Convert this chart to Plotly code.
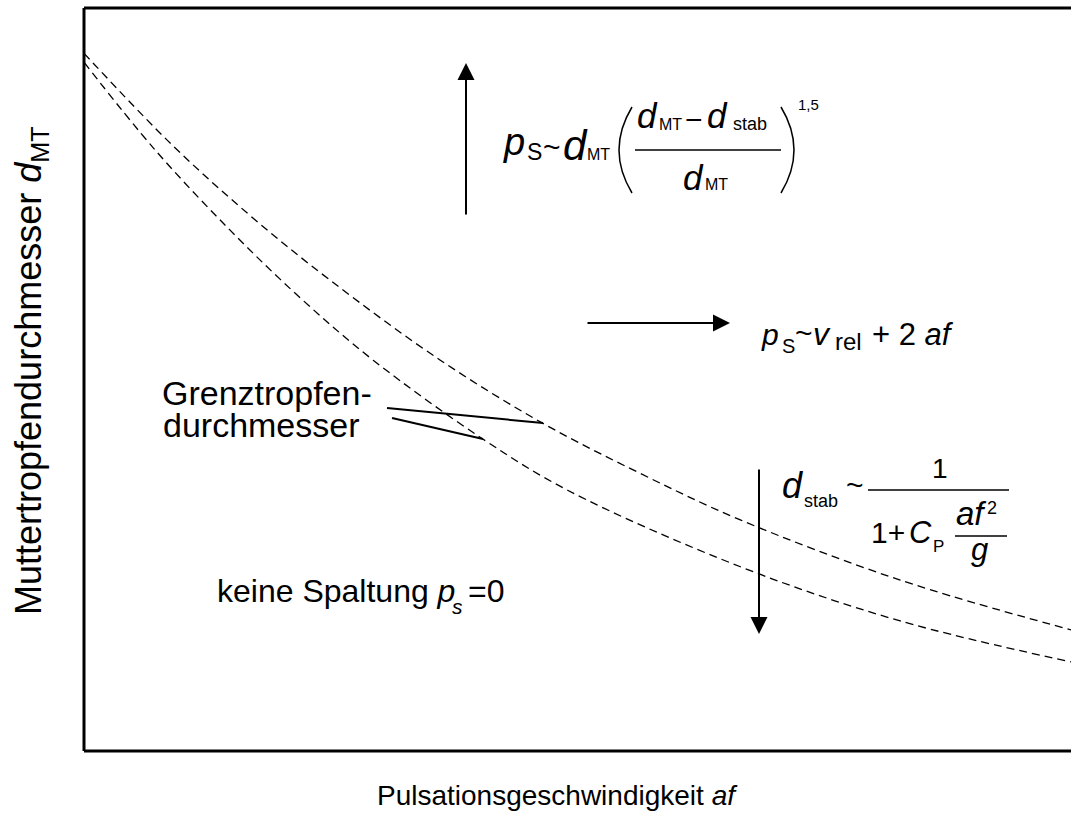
import plotly.graph_objects as go

# ---- data (axis units 0..100) ----
x_upper = [0, 8.9, 16.8, 24.9, 36.1, 46.5, 56.3, 66.5, 82.7, 100]
y_upper = [93.9, 81.6, 72.1, 63.4, 52.6, 44.1, 37.4, 31.1, 23.0, 16.3]
x_lower = [0, 7.2, 14.8, 21.9, 29.3, 40.4, 49.0, 66.5, 82.7, 100]
y_lower = [92.7, 80.9, 70.1, 61.0, 52.6, 42.0, 35.1, 24.8, 17.5, 12.0]

x_title = "Pulsationsgeschwindigkeit <i>af</i>"
y_title = "Muttertropfendurchmesser <i>d</i><sub>MT</sub>"
label_grenz = ["Grenztropfen-", "durchmesser"]
label_keine = "keine Spaltung <i>p</i>"

FONT = "Liberation Sans, Arial, Helvetica, sans-serif"
W, H = 1071, 814
L, T, B = 84, 8, 751  # plot area edges in px


def px(v):
    return (v - L) / (W - L)


def py(v):
    return (B - v) / (B - T)


fig = go.Figure()
for xs, ys in ((x_upper, y_upper), (x_lower, y_lower)):
    fig.add_trace(go.Scatter(
        x=xs, y=ys, mode="lines",
        line=dict(color="black", width=1.3, dash="8px,5px", shape="spline", smoothing=1.0),
        hoverinfo="skip", showlegend=False))

anns = []
shapes = []


def txt(text, left, base, size, xanchor="left"):
    anns.append(dict(text=text, x=px(left), y=py(base - 0.347 * size),
                     xref="paper", yref="paper", xanchor=xanchor, yanchor="middle",
                     showarrow=False, borderpad=0,
                     font=dict(family=FONT, size=size, color="black")))


def line(x0, y0, x1, y1, w=1.5):
    shapes.append(dict(type="line", xref="paper", yref="paper",
                       x0=px(x0), y0=py(y0), x1=px(x1), y1=py(y1),
                       line=dict(color="black", width=w)))


def arrow(hx, hy, tx, ty):
    anns.append(dict(text="", x=px(hx), y=py(hy), xref="paper", yref="paper",
                     ax=tx - hx, ay=ty - hy, axref="pixel", ayref="pixel",
                     showarrow=True, arrowhead=2, arrowsize=1.7, arrowwidth=2,
                     arrowcolor="black", standoff=0))


# frame (left, top, bottom)
line(L, T, L, B, 3)
line(L, T, W + 5, T, 3)
line(L, B, W + 5, B, 3)

# axis titles
anns.append(dict(text=x_title, x=px(557), y=py(795), xref="paper", yref="paper",
                 xanchor="center", yanchor="middle", showarrow=False,
                 font=dict(family=FONT, size=28, color="black")))
anns.append(dict(text=y_title, x=px(31), y=py(371), xref="paper", yref="paper",
                 xanchor="center", yanchor="middle", showarrow=False, textangle=-90,
                 font=dict(family=FONT, size=36, color="black")))

# arrows
arrow(466, 63, 466, 216)
arrow(730, 323, 586, 323)
arrow(759, 634, 759, 468)

# formula 1: p_S ~ d_MT ((d_MT - d_stab)/d_MT)^1,5
txt("<i>p</i>", 502, 155, 38)
txt("S", 526, 160, 23)
txt("~", 542, 157, 30)
txt("<i>d</i>", 562, 160, 42)
txt("MT", 586, 160, 16)
shapes.append(dict(type="path", xref="paper", yref="paper",
                   path=f"M {px(632)},{py(107)} Q {px(606)},{py(150)} {px(632)},{py(193)}",
                   line=dict(color="black", width=1.5)))
shapes.append(dict(type="path", xref="paper", yref="paper",
                   path=f"M {px(781)},{py(107)} Q {px(807)},{py(150)} {px(781)},{py(193)}",
                   line=dict(color="black", width=1.5)))
txt("<i>d</i>", 636, 128, 35)
txt("MT", 658, 130, 16)
txt("\u2212", 684, 130, 30)
txt("<i>d</i>", 706, 128, 35)
txt("stab", 732, 130, 18)
line(635, 150, 781, 150, 1.5)
txt("<i>d</i>", 682, 190, 35)
txt("MT", 704, 190, 16)
txt("1,5", 797, 110, 15)

# formula 2: p_S ~ v_rel + 2 af
txt("<i>p</i>", 760, 345, 30)
txt("S", 781, 353, 20)
txt("~", 794, 343, 30)
txt("<i>v</i>", 812, 345, 32)
txt("rel", 834, 350, 24)
txt("+ 2 <i>af</i>", 871, 345, 31)

# formula 3: d_stab ~ 1 / (1 + C_P af^2/g)
txt("<i>d</i>", 781, 498, 36)
txt("stab", 803, 507, 18)
txt("~", 845, 495, 30)
line(868, 490, 1009, 490, 1.5)
txt("1", 940, 478, 28, xanchor="center")
txt("1+", 870, 543, 30)
txt("<i>C</i>", 908, 543, 31)
txt("P", 932, 552, 17)
line(955, 536, 1007, 536, 1.5)
txt("<i>af</i>", 955, 525, 33)
txt("2", 986, 514, 18)
txt("<i>g</i>", 979, 560, 31, xanchor="center")

# Grenztropfendurchmesser label + pointers
txt(label_grenz[0], 161, 405, 34)
txt(label_grenz[1], 162, 437, 34)
line(387, 408, 543, 423, 2)
line(392, 418, 483, 439, 2)

# keine Spaltung
txt(label_keine, 216, 602, 32)
txt("<i>s</i>", 451, 614, 21)
txt("=0", 467, 602, 32)

fig.update_layout(
    width=W, height=H,
    margin=dict(l=L, r=0, t=T, b=H - B, pad=0),
    paper_bgcolor="white", plot_bgcolor="white",
    xaxis=dict(range=[0, 100], visible=False, fixedrange=True),
    yaxis=dict(range=[0, 100], visible=False, fixedrange=True),
    annotations=anns, shapes=shapes, showlegend=False,
)

fig.write_html("out.html", config={"displayModeBar": False},
               post_script="document.body.style.margin='0px';")
